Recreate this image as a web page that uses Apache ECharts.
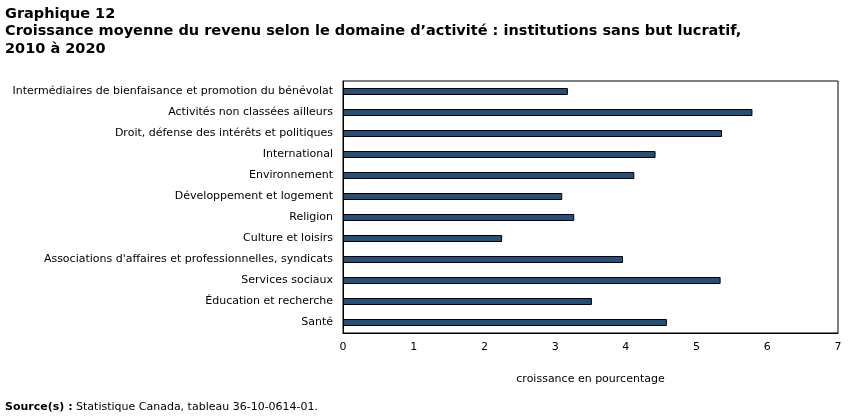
<!DOCTYPE html>
<html>
<head>
<meta charset="utf-8">
<script src="https://cdn.jsdelivr.net/npm/echarts@6/dist/echarts.min.js"></script>
<style>
  html, body { margin: 0; padding: 0; background: #fff; }
  #main { width: 850px; height: 417px; }
</style>
</head>
<body>
<div id="main"></div>
<script>
// catégories, de haut en bas
var categories = [
  'Intermédiaires de bienfaisance et promotion du bénévolat',
  'Activités non classées ailleurs',
  'Droit, défense des intérêts et politiques',
  'International',
  'Environnement',
  'Développement et logement',
  'Religion',
  'Culture et loisirs',
  "Associations d'affaires et professionnelles, syndicats",
  'Services sociaux',
  'Éducation et recherche',
  'Santé'
];
var croissance = [3.18, 5.79, 5.36, 4.42, 4.12, 3.10, 3.27, 2.25, 3.96, 5.34, 3.52, 4.58];
var xTicks = [0, 1, 2, 3, 4, 5, 6, 7];

var font = 'Verdana, "DejaVu Sans", sans-serif';
var myChart = echarts.init(document.getElementById('main'));

myChart.setOption({
  animation: false,
  title: [{
    text: 'Graphique 12\nCroissance moyenne du revenu selon le domaine d\u2019activité : institutions sans but lucratif,\n2010 à 2020',
    left: 0,
    top: 0,
    textStyle: {
      fontFamily: '"DejaVu Sans", sans-serif',
      fontWeight: 'bold',
      fontSize: 14.5,
      lineHeight: 17.5,
      color: '#000'
    }
  }, {
    text: '{b|Source(s) :} Statistique Canada, tableau 36-10-0614-01.',
    left: 0,
    top: 397,
    textStyle: {
      fontFamily: font,
      fontSize: 11,
      fontWeight: 'normal',
      color: '#000',
      rich: {
        b: { fontFamily: font, fontSize: 11, fontWeight: 'bold', color: '#000' }
      }
    }
  }],
  grid: {
    left: 343,
    right: 12,
    top: 81,
    bottom: 84,
    show: true,
    borderColor: '#000',
    borderWidth: 1
  },
  xAxis: {
    type: 'value',
    min: 0,
    max: 7,
    interval: 1,
    name: 'croissance en pourcentage',
    nameLocation: 'middle',
    nameGap: 41,
    nameTextStyle: { fontFamily: font, fontSize: 11, color: '#000' },
    axisLine: { show: true, lineStyle: { color: '#000' } },
    axisTick: { show: false },
    splitLine: { show: false },
    axisLabel: {
      fontFamily: font,
      fontSize: 11,
      color: '#000',
      margin: 9,
      formatter: function (v) { return xTicks.indexOf(v) >= 0 ? String(v) : ''; }
    }
  },
  yAxis: {
    type: 'category',
    data: categories,
    inverse: true,
    axisLine: { show: true, lineStyle: { color: '#000' } },
    axisTick: { show: false },
    axisLabel: {
      fontFamily: font,
      fontSize: 11,
      color: '#000',
      margin: 10
    }
  },
  series: [{
    type: 'bar',
    data: croissance,
    barWidth: 7,
    itemStyle: {
      color: '#234f78',
      borderColor: '#000',
      borderWidth: 1
    }
  }]
});
</script>
</body>
</html>
